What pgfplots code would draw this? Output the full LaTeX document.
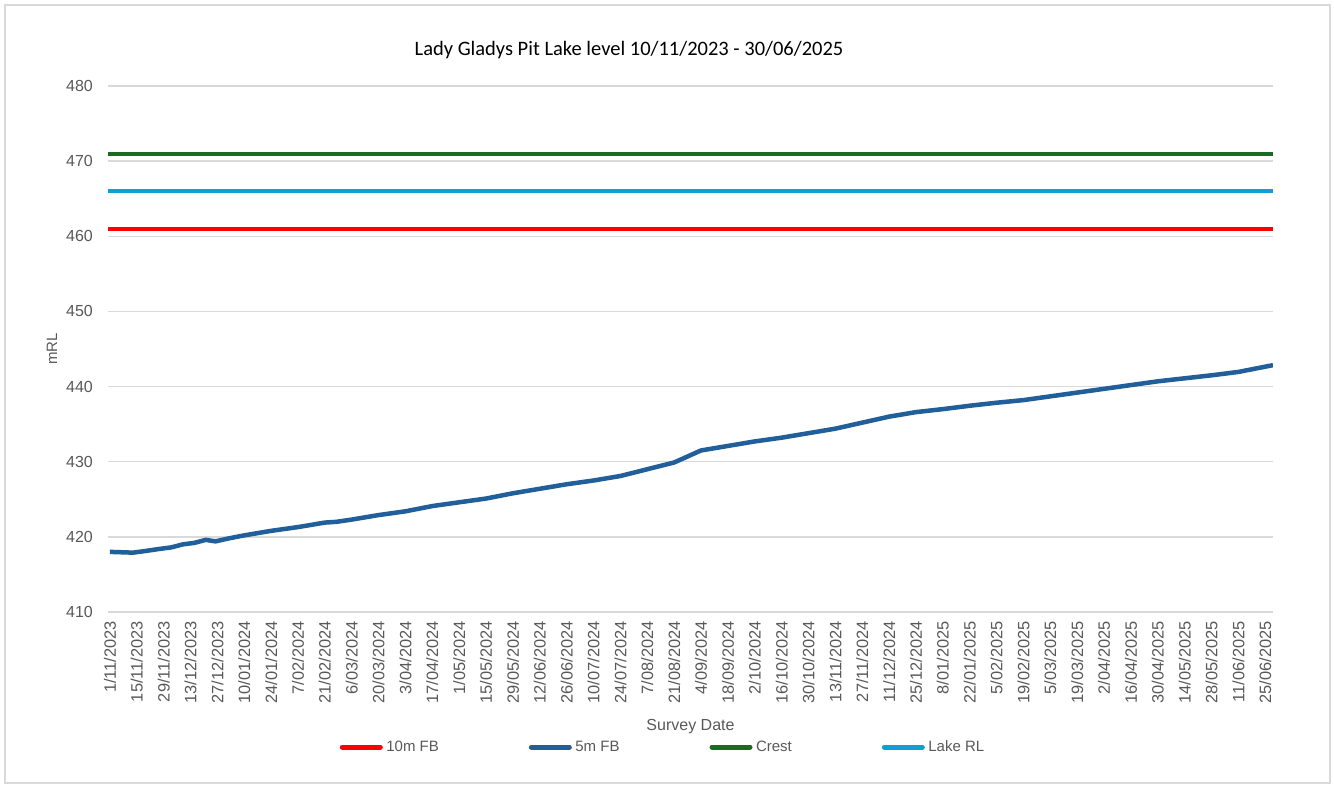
\documentclass[border=0pt]{standalone}
\usepackage{pgfplots}
\pgfplotsset{compat=1.18}
\usepackage{fontspec}
\setmainfont{Liberation Sans}
\newfontfamily\titlefont{Carlito}
\definecolor{cten}{HTML}{FF0000}
\definecolor{cfive}{HTML}{215F9A}
\definecolor{ccrest}{HTML}{196B24}
\definecolor{clake}{HTML}{0F9ED5}
\definecolor{ctick}{HTML}{595959}
\definecolor{cgrid}{HTML}{D9D9D9}
\begin{document}
\begin{tikzpicture}[x=1pt,y=1pt]
\useasboundingbox (0,0) rectangle (1334,785);
\fill[white] (0,0) rectangle (1334,785);
\draw[cgrid, line width=1.3pt] (5,2) rectangle (1330,780);
\node[font=\titlefont\fontsize{20.5}{24}\selectfont, text=black] at (629,735) {Lady Gladys Pit Lake level 10/11/2023 - 30/06/2025};
\begin{axis}[
  at={(108pt,173pt)}, anchor=south west,
  width=1165pt, height=526pt, scale only axis,
  xmin=-1, xmax=606, ymin=410, ymax=480,
  ytick={410,420,...,480},
  xtick={0,14,...,602},
  xticklabels={1/11/2023,15/11/2023,29/11/2023,13/12/2023,27/12/2023,10/01/2024,24/01/2024,7/02/2024,21/02/2024,6/03/2024,20/03/2024,3/04/2024,17/04/2024,1/05/2024,15/05/2024,29/05/2024,12/06/2024,26/06/2024,10/07/2024,24/07/2024,7/08/2024,21/08/2024,4/09/2024,18/09/2024,2/10/2024,16/10/2024,30/10/2024,13/11/2024,27/11/2024,11/12/2024,25/12/2024,8/01/2025,22/01/2025,5/02/2025,19/02/2025,5/03/2025,19/03/2025,2/04/2025,16/04/2025,30/04/2025,14/05/2025,28/05/2025,11/06/2025,25/06/2025},
  /pgf/number format/assume math mode=true,
  axis line style={draw=none},
  tick style={draw=none},
  ymajorgrids,
  major grid style={cgrid, line width=1.4pt},
  xticklabel style={rotate=90, anchor=east, inner sep=0pt, font=\fontsize{16.4}{19}\selectfont, text=ctick, xshift=-9pt},
  yticklabel style={font=\fontsize{16}{19}\selectfont, text=ctick, inner sep=0pt, xshift=-15pt},
  xlabel={Survey Date}, ylabel={mRL},
  x label style={at={(axis description cs:0.5,0)}, anchor=center, yshift=-115pt, font=\fontsize{16}{19}\selectfont, text=ctick},
  y label style={at={(axis description cs:-0.048,0.5)}, anchor=center, font=\fontsize{15}{18}\selectfont, text=ctick},
  legend columns=4,
  legend style={at={(axis description cs:0.476,-0.2567)}, anchor=center, draw=none, fill=none,
     font=\fontsize{15}{18}\selectfont, text=ctick,
     /tikz/every even column/.append style={column sep=89pt},
     nodes={inner sep=1pt}},
  legend image code/.code={\draw[#1, line width=5pt, line cap=round] (0pt,0pt) -- (38pt,0pt);},
]
\addplot[cten, line width=4pt] coordinates {(-1,461) (606,461)};
\addlegendentry{\,10m FB}
\addplot[cfive, line width=4.5pt, line join=round] coordinates {
(0,418.0)(6,417.95)(12,417.9)(18,418.1)(26,418.4)(32,418.6)(38,419.0)(44,419.2)(50,419.6)(55,419.4)(62,419.8)(70,420.2)(84,420.8)(98,421.3)(112,421.9)(118,422.0)(126,422.3)(140,422.9)(154,423.4)(168,424.1)(182,424.6)(196,425.1)(210,425.8)(224,426.4)(238,427.0)(252,427.5)(266,428.1)(280,429.0)(294,429.9)(308,431.5)(322,432.1)(336,432.7)(350,433.2)(364,433.8)(378,434.4)(392,435.2)(406,436.0)(420,436.6)(434,437.0)(448,437.45)(462,437.85)(476,438.2)(490,438.7)(504,439.2)(518,439.7)(532,440.2)(546,440.7)(560,441.1)(574,441.5)(588,441.95)(606,442.85)};
\addlegendentry{\,5m FB}
\addplot[ccrest, line width=4pt] coordinates {(-1,471) (606,471)};
\addlegendentry{\,Crest}
\addplot[clake, line width=4pt] coordinates {(-1,466) (606,466)};
\addlegendentry{\,Lake RL}
\end{axis}
\end{tikzpicture}
\end{document}
